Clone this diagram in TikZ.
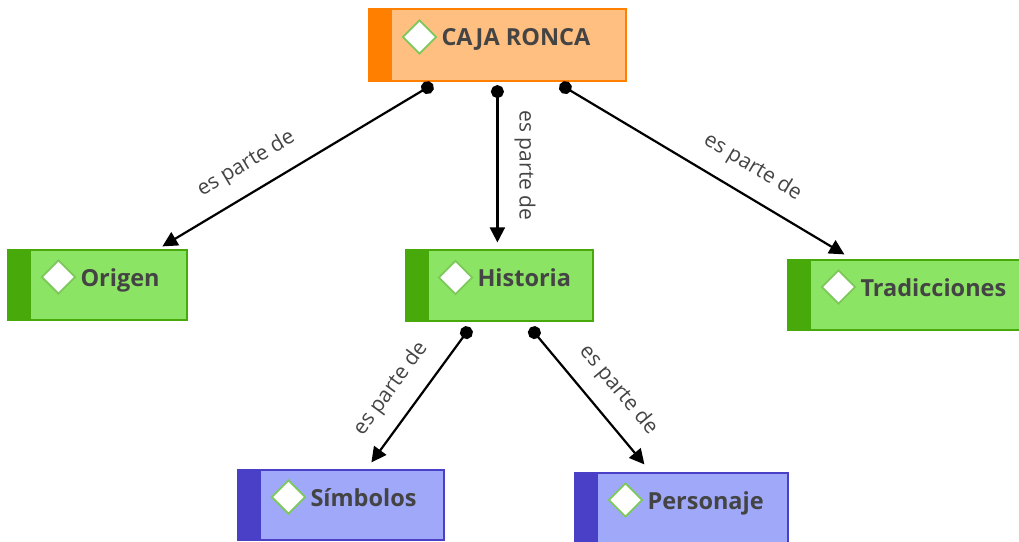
\documentclass[tikz,border=0pt]{standalone}
\usepackage{fontspec}
\setmainfont{Open Sans}
\usetikzlibrary{positioning,shapes.geometric,arrows.meta}
\definecolor{orgfill}{HTML}{FFBF80}
\definecolor{orgline}{HTML}{FF7F00}
\definecolor{grnfill}{HTML}{8CE464}
\definecolor{grnline}{HTML}{48AA0A}
\definecolor{blufill}{HTML}{A0A8FA}
\definecolor{bluline}{HTML}{4A40C8}
\definecolor{icoline}{HTML}{7CC85A}
\definecolor{txtgray}{HTML}{444444}

\begin{document}
\begin{tikzpicture}[
    x=1pt, y=-1pt,
    concept/.style 2 args={rectangle, draw=#1, fill=#2, line width=1.2pt, inner sep=0pt,
        path picture={\fill[#1] (path picture bounding box.north west) rectangle ([xshift=23pt]path picture bounding box.south west);}},
    icon/.style={diamond, draw=icoline, fill=white, line width=1.8pt, minimum size=34pt, inner sep=0pt},
    ctext/.style={anchor=base west, inner sep=0pt, text=txtgray, font=\fontsize{23.5}{28}\selectfont\bfseries},
    rel/.style={line width=2.2pt, {Circle[length=13pt]}-{Triangle[length=15pt,width=15pt]}, shorten <=-6.5pt},
    lbl/.style={sloped, above=16pt, inner sep=0pt, text=txtgray, font=\fontsize{21}{25}\selectfont}
]
\useasboundingbox (0,0) rectangle (1019,541);

% Main concept
\node[concept={orgline}{orgfill}, minimum width=257, minimum height=72] at (497.5, 45) (caja) {};
\node[icon] at ([xshift=51pt, yshift=8pt]caja.west) (caja-ico) {};
\node[ctext, xshift=4pt] at (caja-ico.east |- caja.center) (caja-txt) {CAJA RONCA};

% Second level
\node[concept={grnline}{grnfill}, minimum width=179, minimum height=70] at (97.5, 285) (origen) {};
\node[icon] at ([xshift=51pt, yshift=8pt]origen.west) (origen-ico) {};
\node[ctext, xshift=4pt, yshift=-1pt] at (origen-ico.east |- origen.center) (origen-txt) {Origen};

\node[concept={grnline}{grnfill}, minimum width=187, minimum height=71] at (499.5, 285.5) (historia) {};
\node[icon] at ([xshift=50pt, yshift=8pt]historia.west) (historia-ico) {};
\node[ctext, xshift=4pt, yshift=-1pt] at (historia-ico.east |- historia.center) (historia-txt) {Historia};

\node[concept={grnline}{grnfill}, minimum width=236, minimum height=70] at (906, 295) (trad) {};
\node[icon] at ([xshift=51pt, yshift=8pt]trad.west) (trad-ico) {};
\node[ctext, xshift=4pt, yshift=-1pt] at (trad-ico.east |- trad.center) (trad-txt) {Tradicciones};

% Third level
\node[concept={bluline}{blufill}, minimum width=206, minimum height=70] at (341, 505) (simb) {};
\node[icon] at ([xshift=51pt, yshift=8pt]simb.west) (simb-ico) {};
\node[ctext, xshift=4pt, yshift=-1pt] at (simb-ico.east |- simb.center) (simb-txt) {Símbolos};

\node[concept={bluline}{blufill}, minimum width=213, minimum height=70] at (681.5, 508) (pers) {};
\node[icon] at ([xshift=51pt, yshift=8pt]pers.west) (pers-ico) {};
\node[ctext, xshift=4pt, yshift=-1pt] at (pers-ico.east |- pers.center) (pers-txt) {Personaje};

% Relations from the main concept
\draw[rel] ([xshift=59, yshift=-6]caja.south west) -- node[lbl, pos=0.63] (rel-origen) {es parte de} ([xshift=155, yshift=3]origen.north west);
\draw[rel] ([xshift=129, yshift=-10]caja.south west) -- node[lbl, pos=0.49] (rel-historia) {es parte de} ([xshift=92, yshift=7]historia.north west);
\draw[rel] ([xshift=197, yshift=-6]caja.south west) -- node[lbl, pos=0.62] (rel-trad) {es parte de} ([xshift=57, yshift=5]trad.north west);

% Relations from Historia
\draw[rel] ([xshift=61, yshift=-11]historia.south west) -- node[lbl, pos=0.56] (rel-simb) {es parte de} ([xshift=134, yshift=7]simb.north west);
\draw[rel] ([xshift=129, yshift=-11]historia.south west) -- node[lbl, pos=0.57] (rel-pers) {es parte de} ([xshift=70, yshift=8]pers.north west);

\end{tikzpicture}
\end{document}
